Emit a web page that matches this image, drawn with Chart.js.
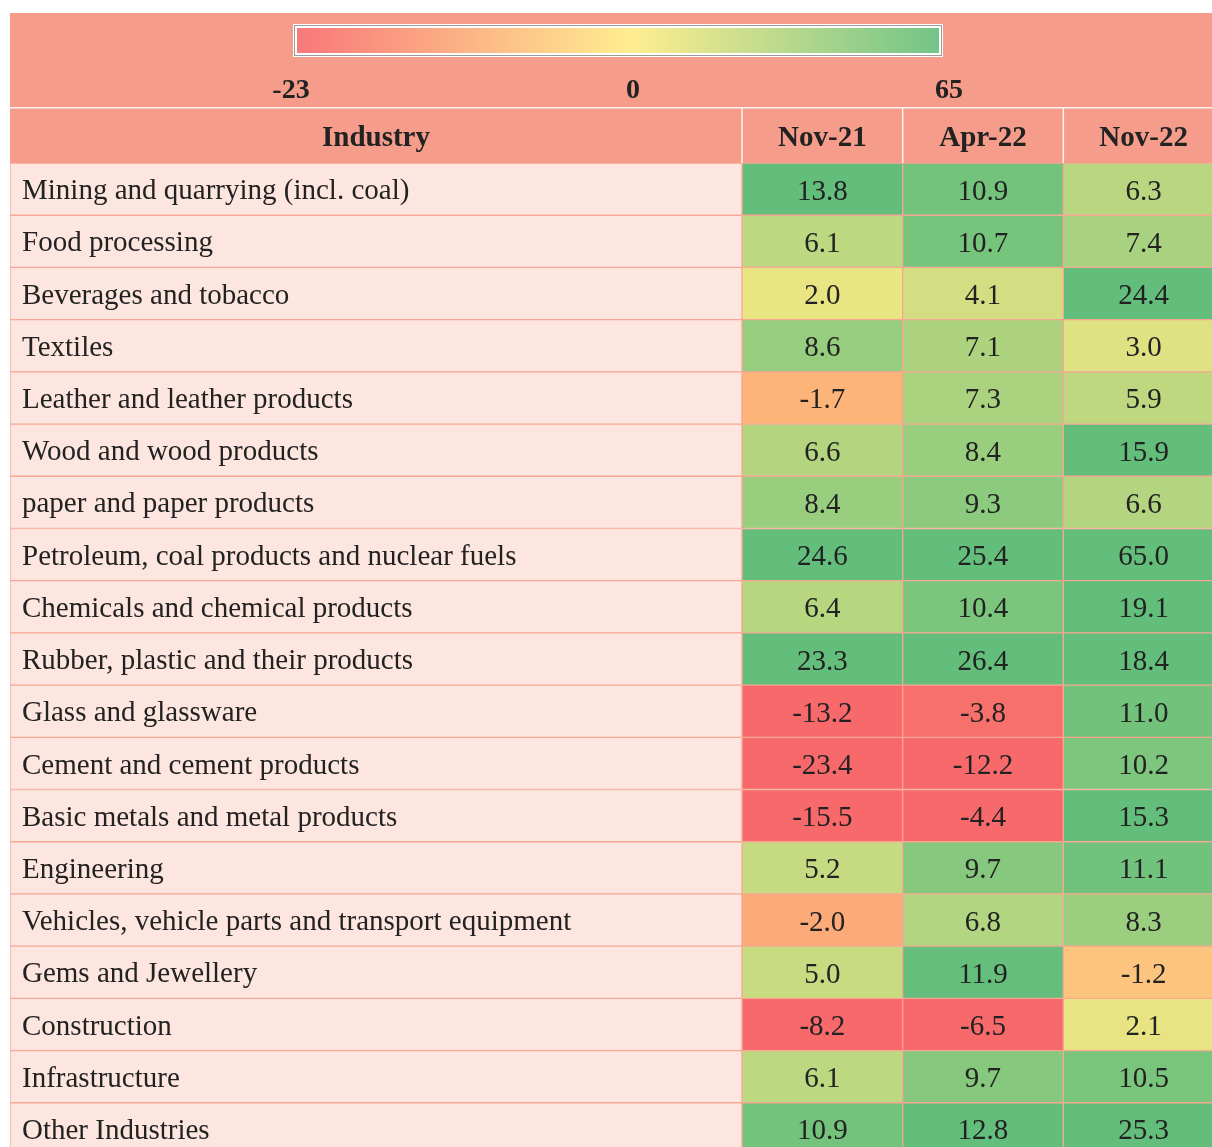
<!DOCTYPE html>
<html><head><meta charset="utf-8">
<script src="https://cdn.jsdelivr.net/npm/chart.js@4.4.1/dist/chart.umd.min.js"></script>
<style>
html,body{margin:0;padding:0;background:#fff;overflow:hidden;width:1212px;height:1147px;}
#wrap{position:relative;width:1240px;height:1160px;}
#chart{position:absolute;left:0;top:0;}
.leg{position:absolute;left:293px;top:24px;width:650px;height:33px;box-sizing:border-box;background:#fff;padding:1px;z-index:2;}
.leg .in{box-sizing:border-box;height:100%;border:1px solid #9b9b9b;padding:2px;background:#fff;}
.leg .grad{height:100%;background:linear-gradient(to right,#F8696B 0%,#FFEB84 52%,#63BE7B 100%);opacity:0.9;}
.lab{position:absolute;top:72px;font:bold 28px "Liberation Serif";color:#222;transform:translateX(-50%);z-index:2;line-height:34px;}
</style></head>
<body>
<div id="wrap">
<canvas id="chart" width="1240" height="1160"></canvas>
<div class="leg"><div class="in"><div class="grad"></div></div></div>
<div id="labs"></div>
</div>
<script>
const industries = [
  'Mining and quarrying (incl. coal)',
  'Food processing',
  'Beverages and tobacco',
  'Textiles',
  'Leather and leather products',
  'Wood and wood products',
  'paper and paper products',
  'Petroleum, coal products and nuclear fuels',
  'Chemicals and chemical products',
  'Rubber, plastic and their products',
  'Glass and glassware',
  'Cement and cement products',
  'Basic metals and metal products',
  'Engineering',
  'Vehicles, vehicle parts and transport equipment',
  'Gems and Jewellery',
  'Construction',
  'Infrastructure',
  'Other Industries'
];
const months = ['Nov-21', 'Apr-22', 'Nov-22'];
const firstHeader = 'Industry';
const nov21 = [13.8, 6.1, 2.0, 8.6, -1.7, 6.6, 8.4, 24.6, 6.4, 23.3, -13.2, -23.4, -15.5, 5.2, -2.0, 5.0, -8.2, 6.1, 10.9];
const apr22 = [10.9, 10.7, 4.1, 7.1, 7.3, 8.4, 9.3, 25.4, 10.4, 26.4, -3.8, -12.2, -4.4, 9.7, 6.8, 11.9, -6.5, 9.7, 12.8];
const nov22 = [6.3, 7.4, 24.4, 3.0, 5.9, 15.9, 6.6, 65.0, 19.1, 18.4, 11.0, 10.2, 15.3, 11.1, 8.3, -1.2, 2.1, 10.5, 25.3];
const legendTicks = [-23, 0, 65];

const series = [nov21, apr22, nov22];
const W = 4.556; // width of the industry column in month-column units

function mix(a, b, t) {
  return 'rgb(' + a.map((c, i) => Math.round(c + (b[i] - c) * t)).join(',') + ')';
}
function cellColor(v) {
  const red = [248, 105, 107], yel = [255, 235, 132], grn = [99, 190, 123];
  if (v < 0) return mix(yel, red, Math.min(1, -v / 4));
  const t = v <= 6 ? v / 6 * 0.42 : Math.min(1, 0.42 + (v - 6) / 6 * 0.58);
  return mix(yel, grn, t);
}

// legend labels (HTML text)
const labPos = [291, 633, 949];
const labs = document.getElementById('labs');
legendTicks.forEach((t, i) => {
  const d = document.createElement('div');
  d.className = 'lab';
  d.style.left = labPos[i] + 'px';
  d.textContent = String(t);
  labs.appendChild(d);
});

const gridCol = '#F6A893';
const datasets = [{
  label: firstHeader,
  data: industries.map(n => ({ y: n, x: [-W, 0] })),
  backgroundColor: '#FDE6E0',
  borderColor: gridCol, borderWidth: 1, borderSkipped: false,
  grouped: false, barPercentage: 1, categoryPercentage: 1
}].concat(series.map((arr, c) => ({
  label: months[c],
  data: industries.map(n => ({ y: n, x: [c, c + 1] })),
  backgroundColor: arr.map(cellColor),
  borderColor: gridCol, borderWidth: 1, borderSkipped: false,
  grouped: false, barPercentage: 1, categoryPercentage: 1
})));

const headers = [firstHeader].concat(months);

const headerBg = {
  id: 'headerBg',
  beforeDraw(chart) {
    const { ctx, chartArea: a, scales: { x } } = chart;
    ctx.save();
    ctx.fillStyle = '#F59D8A';
    ctx.fillRect(a.left, 13, a.right - a.left, a.top - 13);
    ctx.fillStyle = '#FFF3EF';
    ctx.fillRect(a.left, 107, a.right - a.left, 1.5);
    [0, 1, 2].forEach(v => {
      const px = x.getPixelForValue(v);
      ctx.fillRect(px - 0.75, 108, 1.5, a.top - 108);
    });
    ctx.restore();
  }
};
const valueLabels = {
  id: 'valueLabels',
  afterDatasetsDraw(chart) {
    const ctx = chart.ctx;
    ctx.save();
    ctx.font = '29px "Liberation Serif"';
    ctx.fillStyle = '#222';
    ctx.textAlign = 'center';
    ctx.textBaseline = 'alphabetic';
    for (let d = 1; d <= series.length; d++) {
      const meta = chart.getDatasetMeta(d);
      meta.data.forEach((el, i) => {
        ctx.fillText(series[d - 1][i].toFixed(1), (el.x + el.base) / 2, el.y + 10.5);
      });
    }
    ctx.restore();
  }
};

new Chart(document.getElementById('chart'), {
  type: 'bar',
  data: { labels: industries, datasets },
  options: {
    indexAxis: 'y',
    responsive: false,
    animation: false,
    devicePixelRatio: 1,
    layout: { padding: { left: 10, right: 16, top: 108, bottom: 5 } },
    plugins: { legend: { display: false }, tooltip: { enabled: false } },
    scales: {
      x: {
        type: 'linear', position: 'top', min: -W, max: 3,
        grid: { display: false, drawTicks: false }, border: { display: false },
        afterBuildTicks: s => { s.ticks = [{ value: -W / 2 }, { value: 0.5 }, { value: 1.5 }, { value: 2.5 }]; },
        afterFit: s => { s.height = 55; s.paddingLeft = 0; s.paddingRight = 0; },
        ticks: {
          autoSkip: false, maxRotation: 0, padding: 7, color: '#222',
          font: { family: 'Liberation Serif', size: 29, weight: 'bold' },
          callback: (v, i) => headers[i]
        }
      },
      y: {
        type: 'category', position: 'left',
        grid: { display: false, drawTicks: false }, border: { display: false },
        afterFit: s => { s.width = 0; s.paddingTop = 0; s.paddingBottom = 0; },
        ticks: {
          z: 1, mirror: true, padding: 12, labelOffset: 2.5, autoSkip: false, color: '#222',
          font: { family: 'Liberation Serif', size: 29 }
        }
      }
    }
  },
  plugins: [headerBg, valueLabels]
});
</script>
</body></html>
